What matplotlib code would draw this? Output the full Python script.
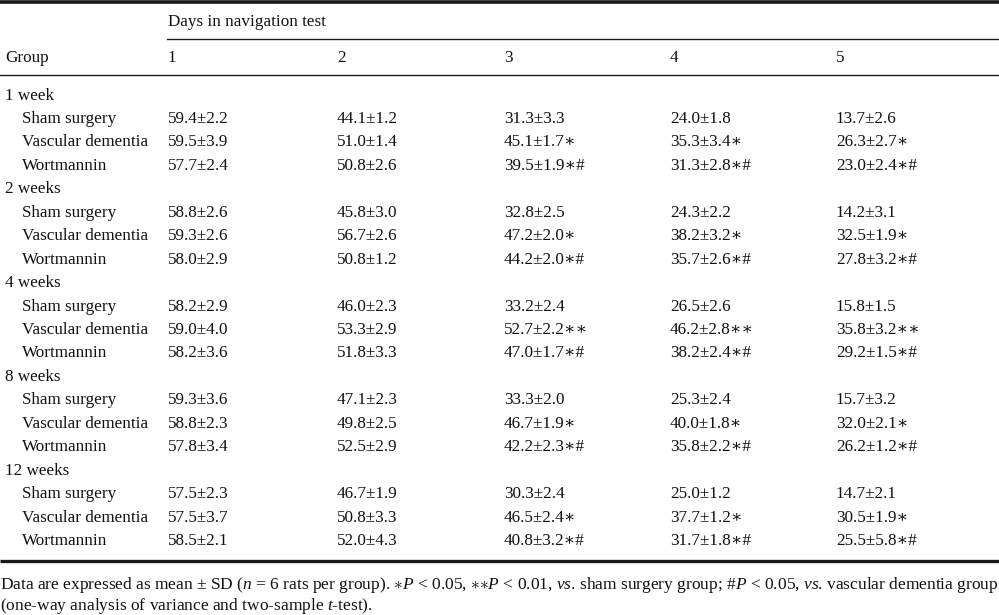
import matplotlib
matplotlib.use("Agg")
import matplotlib.pyplot as plt

plt.rcParams['font.family'] = ['Liberation Serif', 'DejaVu Serif']
plt.rcParams['mathtext.fontset'] = 'custom'
plt.rcParams['mathtext.rm'] = 'Liberation Serif'
plt.rcParams['mathtext.it'] = 'Liberation Serif:italic'
plt.rcParams['mathtext.bf'] = 'Liberation Serif:bold'
plt.rcParams['mathtext.fallback'] = 'cm'

days = ["1", "2", "3", "4", "5"]
timepoints = ["1 week", "2 weeks", "4 weeks", "8 weeks", "12 weeks"]
groups = ["Sham surgery", "Vascular dementia", "Wortmannin"]

# means[timepoint][group][day]
means = [
    [[59.4, 44.1, 31.3, 24.0, 13.7], [59.5, 51.0, 45.1, 35.3, 26.3], [57.7, 50.8, 39.5, 31.3, 23.0]],
    [[58.8, 45.8, 32.8, 24.3, 14.2], [59.3, 56.7, 47.2, 38.2, 32.5], [58.0, 50.8, 44.2, 35.7, 27.8]],
    [[58.2, 46.0, 33.2, 26.5, 15.8], [59.0, 53.3, 52.7, 46.2, 35.8], [58.2, 51.8, 47.0, 38.2, 29.2]],
    [[59.3, 47.1, 33.3, 25.3, 15.7], [58.8, 49.8, 46.7, 40.0, 32.0], [57.8, 52.5, 42.2, 35.8, 26.2]],
    [[57.5, 46.7, 30.3, 25.0, 14.7], [57.5, 50.8, 46.5, 37.7, 30.5], [58.5, 52.0, 40.8, 31.7, 25.5]],
]
sds = [
    [[2.2, 1.2, 3.3, 1.8, 2.6], [3.9, 1.4, 1.7, 3.4, 2.7], [2.4, 2.6, 1.9, 2.8, 2.4]],
    [[2.6, 3.0, 2.5, 2.2, 3.1], [2.6, 2.6, 2.0, 3.2, 1.9], [2.9, 1.2, 2.0, 2.6, 3.2]],
    [[2.9, 2.3, 2.4, 2.6, 1.5], [4.0, 2.9, 2.2, 2.8, 3.2], [3.6, 3.3, 1.7, 2.4, 1.5]],
    [[3.6, 2.3, 2.0, 2.4, 3.2], [2.3, 2.5, 1.9, 1.8, 2.1], [3.4, 2.9, 2.3, 2.2, 1.2]],
    [[2.3, 1.9, 2.4, 1.2, 2.1], [3.7, 3.3, 2.4, 1.2, 1.9], [2.1, 4.3, 3.2, 1.8, 5.8]],
]
A = "\u2217"
marks = [
    [["", "", "", "", ""], ["", "", A, A, A], ["", "", A + "#", A + "#", A + "#"]],
    [["", "", "", "", ""], ["", "", A, A, A], ["", "", A + "#", A + "#", A + "#"]],
    [["", "", "", "", ""], ["", "", A + A, A + A, A + A], ["", "", A + "#", A + "#", A + "#"]],
    [["", "", "", "", ""], ["", "", A, A, A], ["", "", A + "#", A + "#", A + "#"]],
    [["", "", "", "", ""], ["", "", A, A, A], ["", "", A + "#", A + "#", A + "#"]],
]

W, H = 999, 615
fig = plt.figure(figsize=(W / 100, H / 100), dpi=100)
ax = fig.add_axes([0, 0, 1, 1])
ax.set_xlim(0, W)
ax.set_ylim(H, 0)
ax.axis('off')

fs = 12.3
col_x = [168, 337, 504, 670, 836]
txt = dict(fontsize=fs, va='center', ha='left', color='#111111')

# rules
ax.plot([0, W], [1.7, 1.7], color='#1a1a1a', lw=2.6, solid_capstyle='butt')
ax.plot([167, W], [39, 39], color='#1a1a1a', lw=1.0)
ax.plot([0, W], [75, 75], color='#1a1a1a', lw=1.0)
ax.plot([0, W], [561, 561], color='#1a1a1a', lw=2.4, solid_capstyle='butt')

ax.text(168, 21.5, "Days in navigation test", **txt)
ax.text(5, 58.5, "Group", **txt)
for x, d in zip(col_x, days):
    ax.text(x, 58.5, d, **txt)

y = 95.5
step = 23.45
for ti, tp in enumerate(timepoints):
    ax.text(5, y, tp, **txt)
    y += step
    for gi, g in enumerate(groups):
        ax.text(22, y, g, **txt)
        for di in range(5):
            s = f"{means[ti][gi][di]:.1f}\u00b1{sds[ti][gi][di]:.1f}{marks[ti][gi][di]}"
            ax.text(col_x[di], y, s, **txt)
        y += step

fn = dict(txt)
fn['fontsize'] = 12.5
ax.text(0, 585, "Data are expressed as mean \u00b1 SD ($\\mathit{n}$ = 6 rats per group). "
        "${\\ast}\\mathit{P}$ < 0.05, ${\\ast}{\\ast}\\mathit{P}$ < 0.01, $\\mathit{vs}$. sham surgery group; "
        "#$\\mathit{P}$ < 0.05, $\\mathit{vs}$. vascular dementia group",
        **fn)
ax.text(0, 606, "(one-way analysis of variance and two-sample $\\mathit{t}$-test).", **fn)

fig.savefig("out.png", dpi=100)
